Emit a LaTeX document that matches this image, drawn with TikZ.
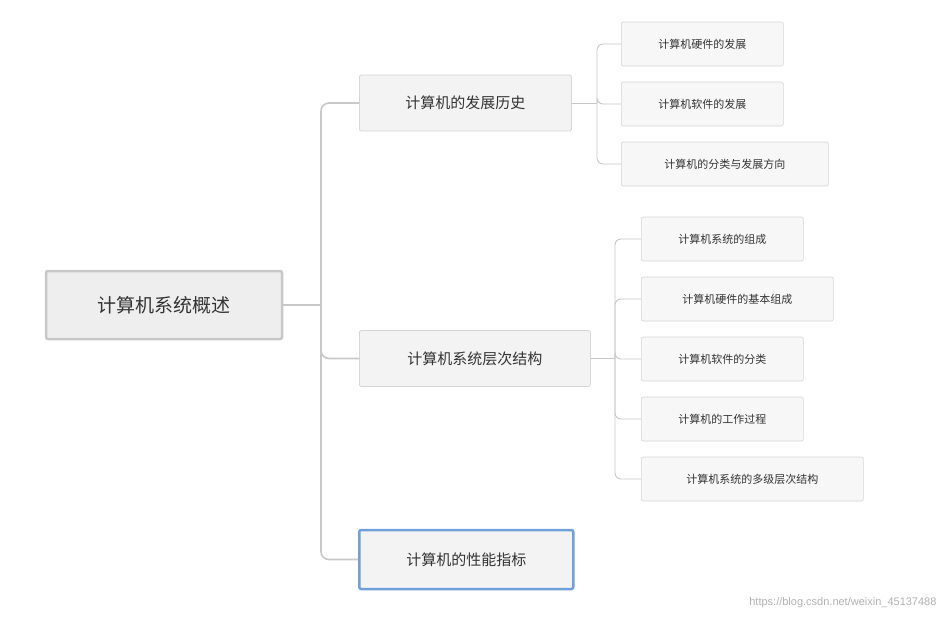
\documentclass[tikz,border=0pt]{standalone}
\usepackage{fontspec}
\newfontfamily\cjk{Noto Sans CJK SC}
\usetikzlibrary{positioning}
\definecolor{lineGray}{HTML}{C8C8C8}
\definecolor{boxGray}{HTML}{D6D6D6}
\definecolor{fillA}{HTML}{EEEEEE}
\definecolor{fillB}{HTML}{F3F3F3}
\definecolor{fillC}{HTML}{F7F7F7}
\definecolor{selBlue}{HTML}{6FA0DC}
\definecolor{txt}{HTML}{333333}
\begin{document}
\begin{tikzpicture}[x=1pt,y=-1pt,font=\cjk,text=txt]
	\tikzset{rootBox/.style={draw=lineGray, line width=2.5pt, fill=fillA, rounded corners=2pt, minimum width=236pt, minimum height=68pt, font=\cjk\fontsize{19}{19}\selectfont}}
	\tikzset{topic/.style={draw=boxGray, line width=0.8pt, fill=fillB, rounded corners=2pt, minimum height=56pt, inner xsep=0pt, font=\cjk\fontsize{15}{15}\selectfont}}
	\tikzset{sub/.style={draw=boxGray, line width=0.6pt, fill=fillC, rounded corners=2pt, minimum height=44pt, inner xsep=0pt, font=\cjk\fontsize{11}{11}\selectfont}}
	\tikzset{branch/.style={draw=lineGray, line width=1.6pt, rounded corners=8pt}}
	\tikzset{twig/.style={draw=lineGray, line width=0.9pt, rounded corners=6pt}}
	\useasboundingbox[fill=white] (0,0) rectangle (947,621);
		\node[rootBox] (root) at (164,305) {计算机系统概述};
		\node[topic, minimum width=212pt, anchor=west] (hist) at (359,103) {计算机的发展历史};
		\node[topic, minimum width=231pt, anchor=west] (layer) at (359,358.5) {计算机系统层次结构};
		\node[topic, minimum width=214pt, minimum height=59pt, draw=selBlue, line width=2.5pt, anchor=west] (perf) at (358,559.5) {计算机的性能指标};
		\foreach \name/\y/\w/\tag in {h1/44/162/计算机硬件的发展, h2/104/162/计算机软件的发展, h3/164/207/计算机的分类与发展方向}
		{\node[sub, minimum width=\w pt, anchor=west] (\name) at (621,\y) {\tag};}
		\foreach \name/\y/\w/\tag in {l1/239/162/计算机系统的组成, l2/299/192/计算机硬件的基本组成, l3/359/162/计算机软件的分类, l4/419/162/计算机的工作过程, l5/479/222/计算机系统的多级层次结构}
		{\node[sub, minimum width=\w pt, anchor=west] (\name) at (641,\y) {\tag};}
		\coordinate (trunk) at (321,305);
		\coordinate (histFork) at (597,103);
		\coordinate (layerFork) at (615,358.5);
		\draw[branch] (root.east) -- (trunk);
		\foreach \t in {hist, layer, perf} {\draw[branch] (trunk) |- (\t.west);}
		\draw[twig] (hist.east) -- (histFork);
		\foreach \s in {h1, h2, h3} {\draw[twig] (histFork) |- (\s.west);}
		\draw[twig] (layer.east) -- (layerFork);
		\foreach \s in {l1, l2, l3, l4, l5} {\draw[twig] (layerFork) |- (\s.west);}
		% watermark
		\node[anchor=east, text=black!30, font=\fontspec{Liberation Sans}\fontsize{11}{11}\selectfont] (mark) at (940,603) {https://blog.csdn.net/weixin\_45137488};
	\end{tikzpicture}
\end{document}
